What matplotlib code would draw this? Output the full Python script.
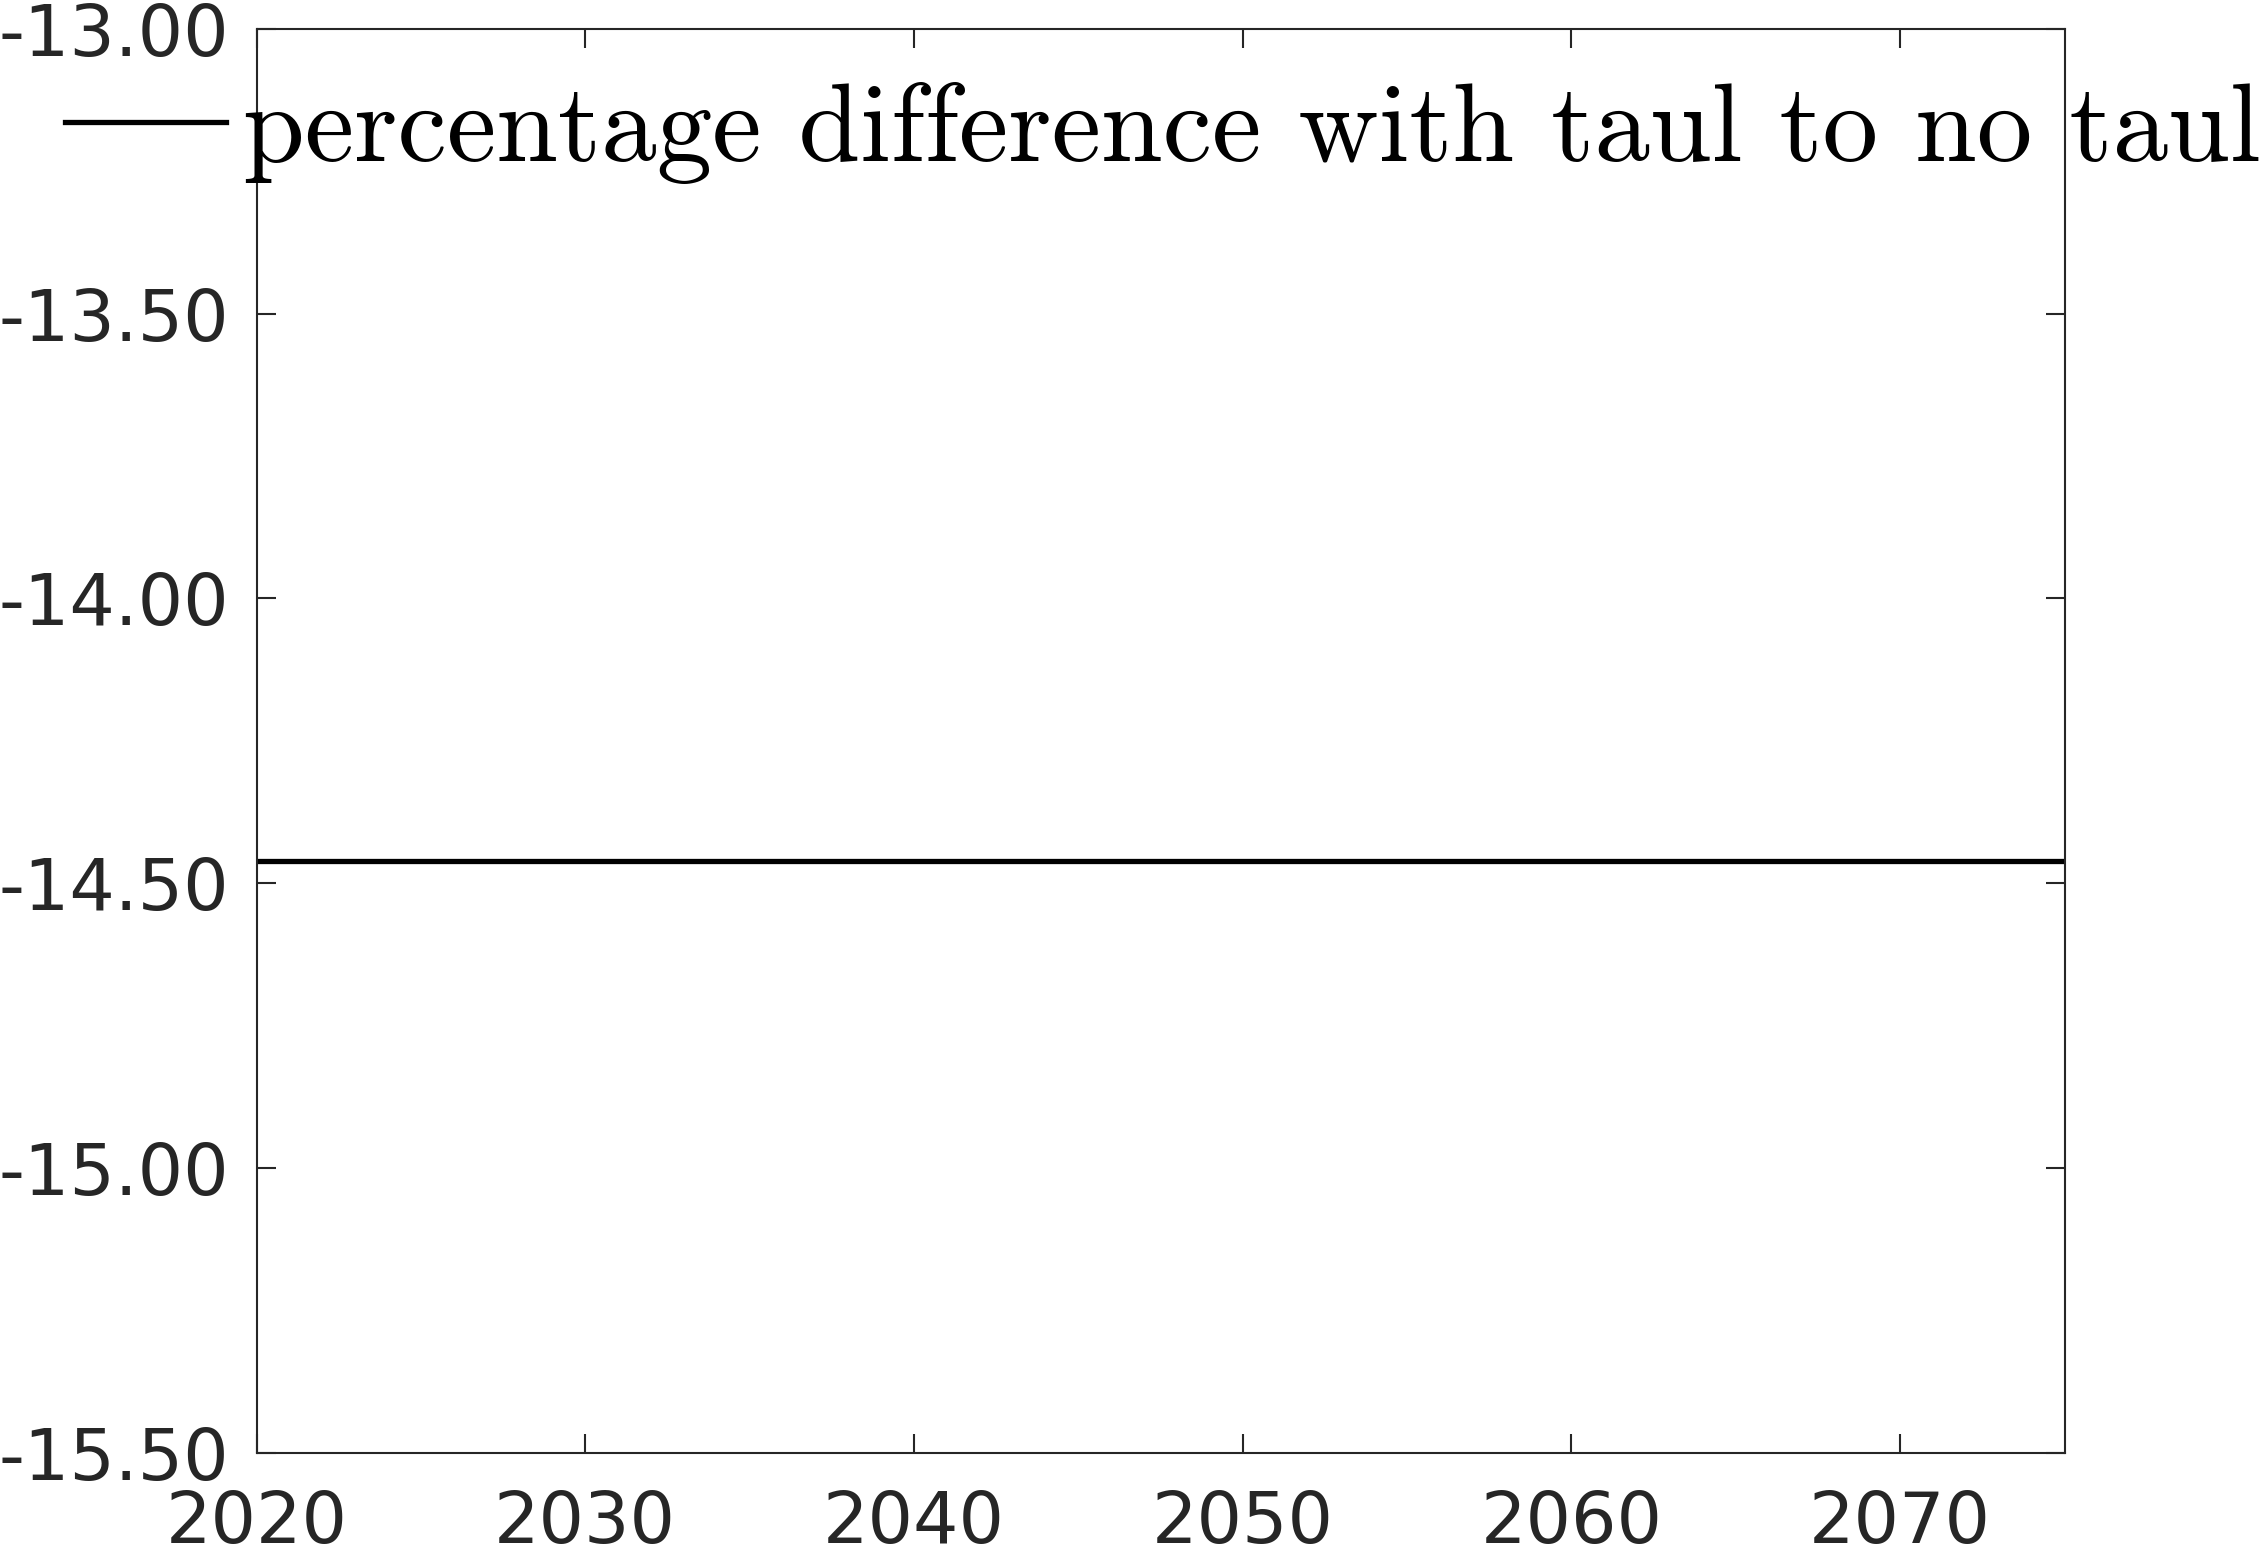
import numpy as np
import matplotlib
matplotlib.use('Agg')
import matplotlib.pyplot as plt
from matplotlib.ticker import FormatStrFormatter

# data
years = [2020, 2025, 2030, 2035, 2040, 2045, 2050, 2055, 2060, 2065, 2070, 2075]
pct_diff = [-14.46, -14.46, -14.46, -14.46, -14.46, -14.46,
            -14.46, -14.46, -14.46, -14.46, -14.46, -14.46]
xticks = [2020, 2030, 2040, 2050, 2060, 2070]
yticks = [-15.5, -15.0, -14.5, -14.0, -13.5, -13.0]
label = 'percentage difference with taul to no taul'

axcol = '#262626'

fig = plt.figure(figsize=(22.6, 15.54), dpi=100)
ax = fig.add_axes([0.1135, 0.065, 0.80, 0.9165])

ax.plot(years, pct_diff, color='black', linewidth=3.8, label=label)

ax.set_xlim(2020, 2075)
ax.set_ylim(-15.5, -13.0)
ax.set_xticks(xticks)
ax.set_yticks(yticks)
ax.yaxis.set_major_formatter(FormatStrFormatter('%.2f'))

for s in ax.spines.values():
    s.set_linewidth(1.5)
    s.set_color(axcol)
ax.tick_params(direction='in', length=14, width=1.5, color=axcol,
               labelsize=51.5, labelcolor=axcol, top=True, right=True)
ax.tick_params(axis='y', pad=20)
ax.tick_params(axis='x', pad=26)

# legend without frame, sits over the top-left corner
leg = ax.legend(loc='center left', bbox_to_anchor=(65 / 2260, 1 - 133 / 1554),
                bbox_transform=fig.transFigure, frameon=False, borderpad=0,
                borderaxespad=0, handlelength=1.45, handletextpad=0.15,
                prop={'family': 'cmr10', 'size': 80})

fig.savefig('out.png', dpi=100)
